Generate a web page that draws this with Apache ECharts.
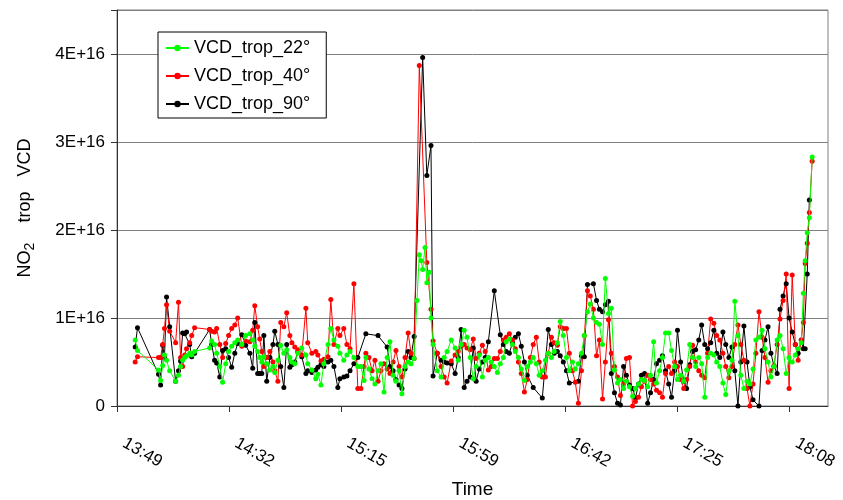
<!DOCTYPE html>
<html><head><meta charset="utf-8">
<script src="https://cdn.jsdelivr.net/npm/echarts@6/dist/echarts.min.js"></script>
<style>html,body{margin:0;padding:0;background:#fff}#c{width:843px;height:500px}</style>
</head><body><div id="c"></div>
<script>
// time = minutes after 13:49 ; values in units of 1E+16 molec/cm2
const times = [
  7.0,7.9,16.0,16.8,17.6,18.3,19.1,20.3,22.6,23.7,24.5,25.3,26.1,26.8,28.0,28.8,29.9,35.7,36.5,37.6,38.4,39.6,40.7,41.9,43.0,44.2,45.4,46.5,
  48.1,49.6,51.2,52.3,53.1,54.2,55.0,55.8,56.6,57.7,58.9,60.1,60.8,62.0,63.1,64.3,65.4,66.6,67.4,68.5,69.7,71.2,72.8,73.5,75.1,76.6,77.4,78.6,79.7,81.3,82.4,83.6,85.1,85.9,87.4,88.6,89.8,91.3,92.8,
  94.0,95.2,95.9,97.1,98.3,99.4,100.6,101.7,102.9,104.1,105.2,106.4,107.5,108.7,109.8,111.0,112.2,113.3,114.5,
  115.6,116.5,117.2,117.8,118.7,119.4,120.3,121.0,121.8,
  123.4,124.9,126.1,127.2,128.8,130.3,131.5,132.6,133.8,134.9,136.1,137.3,138.4,139.6,140.8,141.9,143.1,144.2,145.4,146.6,
  147.7,148.9,150.0,151.2,152.4,153.5,154.7,155.8,157.0,158.1,159.3,160.4,161.6,162.7,163.9,165.1,166.2,167.4,168.5,169.7,
  170.8,172.0,173.2,174.3,175.5,176.6,177.8,179.0,180.1,181.3,182.4,183.6,184.8,185.9,
  187.1,188.2,189.4,190.5,191.7,192.9,194.0,195.2,196.3,197.5,198.7,199.8,201.0,202.1,203.3,204.5,205.6,206.8,207.9,209.1,
  210.2,211.4,212.6,213.7,214.9,216.0,217.2,218.4,219.5,220.7,221.8,223.0,224.2,225.3,226.5,227.6,228.8,230.0,231.1,
  232.3,233.5,234.6,235.8,237.0,238.1,239.3,240.4,241.6,242.8,243.9,245.1,246.2,247.4,248.6,249.7,250.9,252.0,253.2,254.4,
  255.5,256.7,257.9,259.0,260.2,261.4,262.5,263.7,264.5,265.2,266.0,266.8,267.9
];
const vcd22 = [
  0.75,0.63,0.41,0.29,0.46,0.58,0.52,0.40,0.28,0.35,0.45,0.52,0.55,0.57,0.60,0.58,0.62,0.66,0.74,0.70,0.60,0.45,0.27,0.48,0.62,0.68,0.72,0.75,
  0.70,0.80,0.82,0.75,0.68,0.62,0.55,0.50,0.56,0.48,0.41,0.45,0.38,0.52,0.69,0.60,0.64,0.55,0.50,0.48,0.60,0.66,0.58,0.48,0.41,0.31,0.36,0.24,0.48,0.70,0.88,0.75,0.68,0.60,0.52,0.58,0.62,0.55,0.45,
  0.45,0.29,0.55,0.42,0.31,0.25,0.40,0.48,0.16,0.55,0.73,0.35,0.28,0.40,0.14,0.45,0.50,0.48,0.54,
  1.20,1.72,1.65,1.55,1.80,1.40,1.52,1.00,0.70,
  0.40,0.33,0.55,0.62,0.75,0.66,0.52,0.70,0.86,0.78,0.55,0.31,0.45,0.58,0.33,0.52,0.55,0.50,0.45,0.38,
  0.48,0.55,0.73,0.76,0.70,0.62,0.55,0.42,0.29,0.45,0.50,0.55,0.48,0.35,0.40,0.52,0.60,0.55,0.62,0.72,
  0.96,0.80,0.55,0.40,0.50,0.42,0.48,0.60,0.80,1.07,1.16,1.00,0.95,0.93,
  0.70,1.45,1.05,1.11,0.41,0.26,0.30,0.20,0.28,0.22,0.11,0.20,0.25,0.30,0.29,0.22,0.35,0.73,0.26,0.40,
  0.55,0.83,0.83,0.63,0.45,0.30,0.35,0.28,0.41,0.70,0.55,0.45,0.55,0.48,0.10,0.55,0.60,0.58,0.50,
  0.45,0.26,0.13,0.40,0.52,1.19,0.80,0.35,0.20,0.28,0.25,0.42,0.75,0.78,0.86,0.65,0.50,0.33,0.45,0.75,
  0.80,0.65,0.37,0.55,0.50,0.58,0.65,0.72,1.28,1.65,1.97,2.14,2.83
];
const vcd40 = [
  0.50,0.56,0.55,0.55,0.70,0.88,1.15,0.85,0.72,1.18,0.55,0.45,0.58,0.65,0.72,0.80,0.89,0.87,0.85,0.84,0.88,0.70,0.55,0.71,0.80,0.88,0.92,1.00,
  0.68,0.74,0.73,0.86,1.14,0.90,0.76,0.62,0.45,0.55,0.62,0.50,0.40,0.28,0.95,0.90,1.06,0.80,0.72,0.67,0.64,0.58,1.11,0.72,0.60,0.62,0.58,0.51,0.53,0.56,1.21,0.70,0.88,0.80,0.88,0.70,0.65,1.39,0.20,
  0.20,0.45,0.60,0.55,0.40,0.52,0.28,0.40,0.48,0.42,0.37,0.50,0.63,0.45,0.33,0.55,0.83,0.60,0.54,
  null,3.87,null,null,null,1.63,null,1.10,0.74,
  0.60,0.45,0.33,0.26,0.51,0.58,0.62,0.68,0.70,0.66,0.64,0.76,0.54,0.60,0.69,0.62,0.41,0.45,0.54,0.54,
  0.62,0.75,0.78,0.82,0.75,0.65,0.50,0.37,0.16,0.30,0.55,0.70,0.78,0.50,0.33,0.33,0.60,0.78,0.72,0.69,
  0.90,0.88,0.88,0.60,0.40,0.27,0.03,0.40,0.80,1.31,1.25,1.10,0.57,0.75,
  0.08,0.50,0.98,0.60,0.45,0.33,0.12,0.25,0.54,0.55,0.00,0.05,0.10,0.22,0.28,0.35,0.30,0.25,0.18,0.15,
  0.10,0.37,0.45,0.37,0.50,0.45,0.30,0.20,0.30,0.45,0.69,0.50,0.40,0.35,0.32,0.60,0.99,0.94,0.80,
  0.75,0.60,0.45,0.32,0.45,0.70,0.92,0.70,0.52,0.20,0.00,0.25,0.60,1.07,0.78,0.55,0.27,0.40,0.46,0.70,
  0.99,1.20,1.50,0.20,1.49,0.70,0.52,0.75,0.95,1.62,1.85,2.20,2.78
];
const vcd90 = [
  0.67,0.89,0.36,0.24,0.69,0.55,1.24,0.90,0.28,0.40,0.51,0.83,0.82,0.84,0.70,0.56,0.60,0.87,0.70,0.52,0.49,0.33,0.63,0.65,0.55,0.44,0.60,0.71,
  0.81,0.69,0.60,0.43,0.95,0.37,0.37,0.37,0.80,0.28,0.55,0.70,0.85,0.70,0.45,0.21,0.70,0.44,0.47,0.50,0.62,0.56,0.37,0.40,0.38,0.41,0.44,0.47,0.45,0.50,0.52,0.45,0.21,0.31,0.33,0.34,0.40,0.48,0.55,
  null,null,0.82,null,null,null,0.80,null,null,0.67,0.45,0.40,0.30,0.24,0.20,0.42,0.62,0.55,0.79,
  null,null,null,3.96,null,2.62,null,2.96,0.34,
  0.60,0.52,0.50,0.49,0.48,0.37,0.55,0.87,0.21,0.28,0.33,0.66,0.28,0.42,0.50,0.55,0.73,null,1.31,null,
  0.81,0.70,0.62,0.60,0.72,0.78,0.82,0.68,0.50,0.35,null,0.21,null,null,0.09,null,0.87,0.70,0.60,0.62,
  0.57,0.50,0.40,0.26,null,null,0.28,0.57,0.56,1.38,null,1.39,1.20,1.10,
  1.07,1.15,1.19,0.37,0.15,0.03,0.01,0.45,0.35,0.24,0.20,0.09,0.25,0.35,0.37,0.03,0.15,0.30,0.48,0.52,
  0.57,0.40,0.25,0.10,0.40,0.86,0.50,0.28,0.20,0.47,0.62,0.64,0.75,0.92,0.70,0.65,0.72,0.86,0.60,
  0.55,0.84,0.70,0.55,0.67,0.40,0.00,0.50,0.91,0.50,0.22,0.07,null,0.00,0.63,0.75,0.90,0.60,0.45,0.37,
  1.10,1.25,1.39,1.00,0.84,0.70,0.60,0.75,0.65,0.65,1.50,2.34,null
];
const seriesNames = ['VCD_trop_22°', 'VCD_trop_40°', 'VCD_trop_90°'];
const seriesColors = ['#00ff00', '#ff0000', '#000000'];
const xTickLabels = ['13:49', '14:32', '15:15', '15:59', '16:42', '17:25', '18:08'];
const yTickLabels = ['0', '1E+16', '2E+16', '3E+16', '4E+16'];
const X_STEP = 43.2;

function pairs(vals) {
  const out = [];
  for (let i = 0; i < times.length; i++) {
    if (vals[i] !== null && vals[i] !== undefined) out.push([times[i], vals[i]]);
  }
  return out;
}
const FONT = 'Liberation Sans, Arial, sans-serif';
const chart = echarts.init(document.getElementById('c'), null, {renderer: 'canvas'});
const allVals = [vcd22, vcd40, vcd90];
const series = [2, 1, 0].map(k => ({
  name: seriesNames[k],
  type: 'line',
  data: pairs(allVals[k]),
  connectNulls: true,
  symbol: 'circle',
  symbolSize: 5,
  color: seriesColors[k],
  lineStyle: {width: 1, color: seriesColors[k]},
  itemStyle: {color: seriesColors[k]},
  z: k === 0 ? 4 : 3,
  animation: false
}));
chart.setOption({
  animation: false,
  backgroundColor: '#fff',
  textStyle: {fontFamily: FONT},
  grid: {left: 117, right: 15, top: 10, bottom: 94, show: true, borderColor: '#808080', borderWidth: 1,
         containLabel: false, outerBoundsMode: 'none'},
  legend: {
    data: seriesNames,
    orient: 'vertical',
    left: 158, top: 32,
    padding: [7, 16, 5, 7],
    itemGap: 10,
    itemWidth: 23, itemHeight: 8,
    backgroundColor: '#fff',
    borderColor: '#000', borderWidth: 1,
    textStyle: {fontSize: 18, color: '#000', fontFamily: FONT}
  },
  xAxis: {
    type: 'value', min: 0, max: 274, interval: X_STEP,
    name: 'Time', nameLocation: 'middle', nameGap: 74,
    nameTextStyle: {fontSize: 19, color: '#000', fontFamily: FONT},
    axisLine: {show: true, lineStyle: {color: '#333', width: 1}},
    axisTick: {show: true, length: 6, lineStyle: {color: '#333'}},
    splitLine: {show: false},
    axisLabel: {
      rotate: -30, margin: 32, padding: [0, 0, 0, 8], fontSize: 17, color: '#000', fontFamily: FONT,
      showMaxLabel: false,
      formatter: v => {
        const i = Math.round(v / X_STEP);
        if (Math.abs(v - i * X_STEP) > 0.5) return '';
        return xTickLabels[i] || '';
      }
    }
  },
  yAxis: {
    type: 'value', min: 0, max: 4.5, interval: 1,
    name: '{a|NO}{b|2}{a|    trop   VCD}', nameLocation: 'middle', nameGap: 80,
    nameTextStyle: {
      color: '#000', fontFamily: FONT,
      rich: {
        a: {fontSize: 18, color: '#000', fontFamily: FONT},
        b: {fontSize: 14, color: '#000', fontFamily: FONT, padding: [10, 0, 0, 0]}
      }
    },
    axisLine: {show: true, lineStyle: {color: '#333', width: 1}},
    axisTick: {show: true, length: 6, lineStyle: {color: '#333'}},
    splitLine: {show: true, lineStyle: {color: '#808080', width: 1}},
    axisLabel: {
      margin: 12, fontSize: 17, color: '#000', fontFamily: FONT,
      formatter: v => {
        const i = Math.round(v);
        if (Math.abs(v - i) > 0.01) return '';
        return yTickLabels[i] || '';
      }
    }
  },
  series: series
});
</script>
</body></html>
